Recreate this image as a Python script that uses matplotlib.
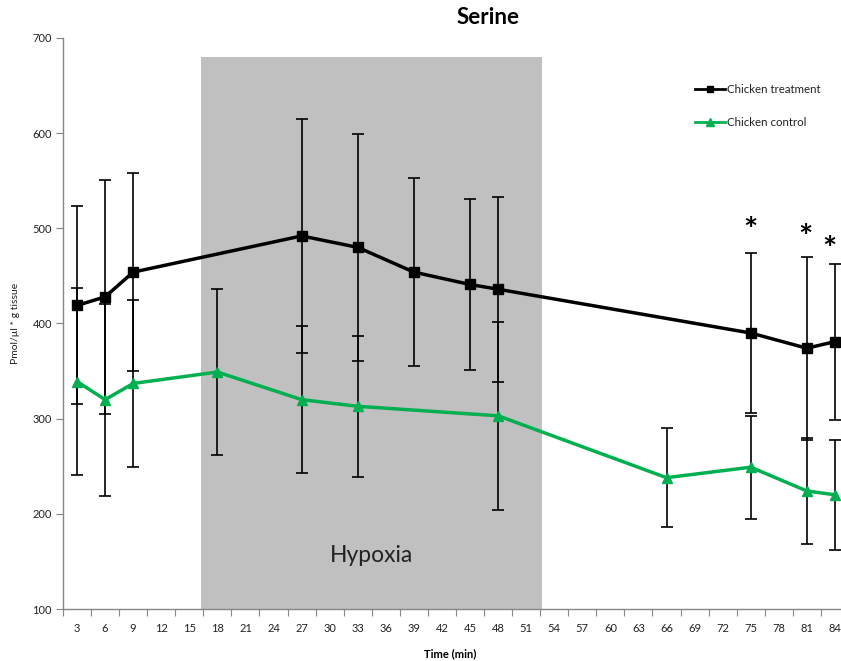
import matplotlib
matplotlib.use("Agg")
import matplotlib.pyplot as plt
from matplotlib.patches import Rectangle
from matplotlib.ticker import FixedLocator, NullFormatter, FixedFormatter

plt.rcParams['font.family'] = ['Lato', 'DejaVu Sans']

# ---- data ----
treat_x = [3, 6, 9, 27, 33, 39, 45, 48, 75, 81, 84]
treat_y = [419, 428, 454, 492, 480, 454, 441, 436, 390, 374, 381]
treat_err = [104, 123, 104, 123, 119, 99, 90, 97, 84, 96, 82]

ctrl_x = [3, 6, 9, 18, 27, 33, 48, 66, 75, 81, 84]
ctrl_y = [339, 320, 337, 349, 320, 313, 303, 238, 249, 224, 220]
ctrl_err = [98, 101, 88, 87, 77, 74, 99, 52, 54, 56, 58]

tick_minutes = list(range(3, 85, 3))
tick_labels = [str(t) for t in tick_minutes]
y_ticks = [100, 200, 300, 400, 500, 600, 700]

hypoxia_start, hypoxia_end = 16.3, 52.7
hypoxia_top = 680
star_x = [75, 81, 84]
star_y = [506, 499, 486]

# ---- figure ----
W, H = 841, 661
fig = plt.figure(figsize=(W / 100, H / 100), dpi=100)
left, right, top, bottom = 63, 849, 38, 609
ax = fig.add_axes([left / W, 1 - bottom / H, (right - left) / W, (bottom - top) / H])

ax.set_xlim(1.5, 85.5)
ax.set_ylim(100, 700)

ax.add_patch(Rectangle((hypoxia_start, 100), hypoxia_end - hypoxia_start,
                       hypoxia_top - 100, facecolor='#C0C0C0', edgecolor='none', zorder=0))
ax.text((hypoxia_start + hypoxia_end) / 2, 156, 'Hypoxia', ha='center', va='center',
        fontsize=16.5, color='#222222', zorder=1)

ax.errorbar(treat_x, treat_y, yerr=treat_err, fmt='none', ecolor='black',
            elinewidth=1.2, capsize=4, capthick=1.2, zorder=2)
ax.errorbar(ctrl_x, ctrl_y, yerr=ctrl_err, fmt='none', ecolor='black',
            elinewidth=1.2, capsize=4, capthick=1.2, zorder=2)
ax.plot(treat_x, treat_y, color='black', lw=2.5, marker='s', ms=6.5,
        label='Chicken treatment', zorder=3)
ax.plot(ctrl_x, ctrl_y, color='#00B050', lw=2.5, marker='^', ms=7.5,
        label='Chicken control', zorder=3)

star_dx = [0, -1, -4]  # small nudges in points (last one sits at the edge)
for sx, sy, dx in zip(star_x, star_y, star_dx):
    ax.annotate('*', xy=(sx, sy), xytext=(dx, -6.5), textcoords='offset points',
                ha='center', va='center', fontsize=24, fontweight='bold',
                color='black', zorder=4)

# spines
for s in ['top', 'right']:
    ax.spines[s].set_visible(False)
for s in ['left', 'bottom']:
    ax.spines[s].set_color('#868686')
    ax.spines[s].set_linewidth(1.0)

# y ticks
ax.set_yticks(y_ticks)
ax.tick_params(axis='y', direction='out', length=5, color='#868686',
               labelsize=8, labelcolor='#222222', pad=3)

# x ticks: marks between categories, labels at categories
ax.xaxis.set_major_locator(FixedLocator([1.5 + 3 * k for k in range(29)]))
ax.xaxis.set_major_formatter(NullFormatter())
ax.xaxis.set_minor_locator(FixedLocator(tick_minutes))
ax.xaxis.set_minor_formatter(FixedFormatter(tick_labels))
ax.tick_params(axis='x', which='major', direction='out', length=5, color='#868686')
ax.tick_params(axis='x', which='minor', length=0, labelsize=8,
               labelcolor='#222222', pad=10)

ax.set_xlabel('Time (min)', fontsize=8, fontweight='bold', labelpad=6)
ax.xaxis.set_label_coords((450 - left) / (right - left), -(648 - bottom) / (bottom - top))
ax.set_ylabel('Pmol/µl * g tissue', fontsize=7.5, color='#222222')
ax.yaxis.set_label_coords(-(left - 20) / (right - left), (bottom - 323) / (bottom - top))

fig.text(488 / W, 1 - 18 / H, 'Serine', ha='center', va='center',
         fontsize=16, fontweight='bold')

leg = ax.legend(loc='upper left', bbox_to_anchor=((690 - left) / (right - left), (bottom - 79) / (bottom - top)),
                frameon=False, fontsize=8.3, handlelength=2.6, labelspacing=1.95,
                handletextpad=0.2, borderaxespad=0, markerscale=0.75)
for line in leg.get_lines():
    line.set_linewidth(2)
for t in leg.get_texts():
    t.set_color('#222222')

fig.savefig('out.png', dpi=100)
